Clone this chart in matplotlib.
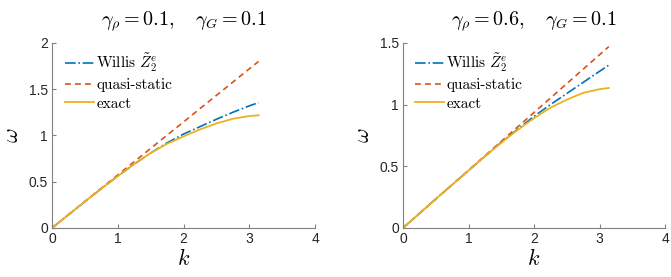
import matplotlib.pyplot as plt
import numpy as np

plt.rcParams['mathtext.fontset'] = 'cm'
plt.rcParams['font.family'] = ['Liberation Sans', 'DejaVu Sans']
plt.rcParams['axes.unicode_minus'] = False

# wave number grid, last point is pi
k = [0.0, 0.25, 0.5, 0.75, 1.0, 1.25, 1.5, 1.75, 2.0, 2.25, 2.5, 2.75, 3.0, 3.1416]

# left panel: gamma_rho = 0.1, gamma_G = 0.1
willis_1 = [0.0, 0.143, 0.285, 0.425, 0.56, 0.69, 0.81, 0.92, 1.015, 1.095, 1.175, 1.25, 1.32, 1.355]
quasi_1 = [0.0, 0.143, 0.287, 0.43, 0.573, 0.716, 0.86, 1.003, 1.146, 1.29, 1.433, 1.576, 1.72, 1.80]
exact_1 = [0.0, 0.143, 0.285, 0.425, 0.56, 0.69, 0.81, 0.91, 0.99, 1.065, 1.13, 1.18, 1.21, 1.218]

# right panel: gamma_rho = 0.6, gamma_G = 0.1
willis_2 = [0.0, 0.117, 0.235, 0.35, 0.465, 0.58, 0.695, 0.80, 0.905, 1.0, 1.09, 1.18, 1.27, 1.32]
quasi_2 = [0.0, 0.117, 0.234, 0.351, 0.468, 0.585, 0.702, 0.819, 0.936, 1.053, 1.17, 1.287, 1.404, 1.47]
exact_2 = [0.0, 0.117, 0.235, 0.35, 0.465, 0.58, 0.69, 0.795, 0.89, 0.975, 1.04, 1.095, 1.125, 1.135]

titles = [r'$\gamma_\rho = 0.1, \quad \gamma_G = 0.1$',
          r'$\gamma_\rho = 0.6, \quad \gamma_G = 0.1$']
ylims = [(0, 2), (0, 1.5)]
yticks = [[0, 0.5, 1, 1.5, 2], [0, 0.5, 1, 1.5]]
yticklabels = [['0', '0.5', '1', '1.5', '2'], ['0', '0.5', '1', '1.5']]

blue = '#0072BD'
red = '#D95319'
yellow = '#EDB120'
grey = '#808080'

fig = plt.figure(figsize=(6.71, 2.77), dpi=100)
ax1 = fig.add_axes([0.0775, 0.177, 0.392, 0.668])
ax2 = fig.add_axes([0.6006, 0.177, 0.3905, 0.668])

data = [(willis_1, quasi_1, exact_1), (willis_2, quasi_2, exact_2)]
leg_x = [0.05, 0.046]
for i, ax in enumerate([ax1, ax2]):
    w, q, e = data[i]
    ax.plot(k, w, color=blue, ls='-.', lw=1.2, label=r'Willis $\tilde{Z}_2^e$')
    ax.plot(k, q, color=red, ls=(0, (3.5, 2.5)), lw=1.2, label='quasi-static')
    ax.plot(k, e, color=yellow, ls='-', lw=1.3, label='exact')
    ax.set_xlim(0, 4)
    ax.set_ylim(*ylims[i])
    ax.set_xticks([0, 1, 2, 3, 4])
    ax.set_xticklabels(['0', '1', '2', '3', '4'])
    ax.set_yticks(yticks[i])
    ax.set_yticklabels(yticklabels[i])
    ax.spines['top'].set_visible(False)
    ax.spines['right'].set_visible(False)
    for s in ['left', 'bottom']:
        ax.spines[s].set_color(grey)
        ax.spines[s].set_linewidth(0.8)
    ax.tick_params(direction='in', length=3, width=0.8, color=grey,
                   labelsize=10, labelcolor='#262626', pad=3)
    ax.set_xlabel('$k$', fontsize=16, labelpad=2)
    ax.set_ylabel(r'$\omega$', fontsize=16, labelpad=4)
    ax.set_title(titles[i], fontsize=14.5, pad=13)
    ax.legend(loc='upper left', frameon=False, prop={'family': 'cmr10', 'size': 11},
              handlelength=1.9, handletextpad=0.15, labelspacing=0.3,
              borderpad=0, borderaxespad=0, bbox_to_anchor=(leg_x[i], 0.955))

plt.savefig('out.png', dpi=100)
